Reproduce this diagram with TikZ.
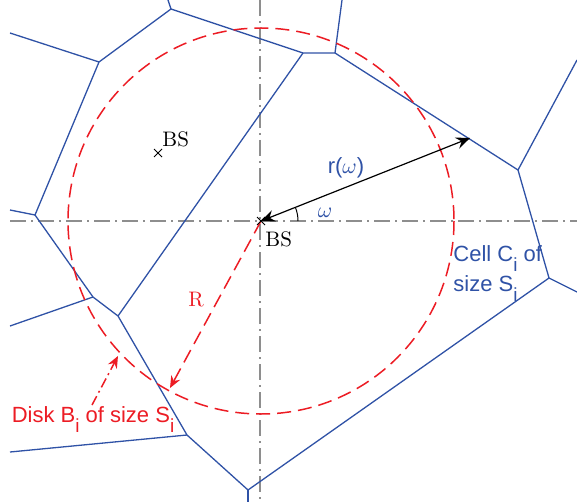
\documentclass[tikz,border=0pt]{standalone}
\usepackage{fontspec}
\newfontfamily\labsans{Liberation Sans}
\usetikzlibrary{arrows.meta,shapes.misc}
\definecolor{cellblue}{HTML}{2F52A6}
\definecolor{diskred}{HTML}{EC1C24}
\definecolor{axisgray}{HTML}{8E8E8E}
\newcommand{\lowi}{\raisebox{-5pt}{\fontsize{9.5}{10}\selectfont i}}
\tikzset{
  celledge/.style={draw=cellblue, line width=0.65pt},
  axisline/.style={draw=axisgray, line width=0.55pt, dash pattern=on 8pt off 2.5pt on 1pt off 2.5pt},
  diskline/.style={draw=diskred, line width=0.75pt, dash pattern=on 7pt off 3.5pt},
  diskdashdot/.style={draw=diskred, line width=0.75pt, dash pattern=on 5pt off 2pt on 1pt off 2pt},
  redtip/.style={-{Stealth[length=6pt,width=5pt,inset=2pt]}},
  bsmark/.style={cross out, draw=black, line width=0.5pt, minimum size=3.5pt, inner sep=0pt},
  serlab/.style={font=\fontsize{10.5}{12}\selectfont, inner sep=0pt},
  sanslab/.style={font=\labsans\fontsize{11}{15}\selectfont, inner sep=0pt},
}
\begin{document}
\begin{tikzpicture}[x=0.5pt,y=-0.5pt]
\useasboundingbox (0,0) rectangle (577,502);
% base stations and axes
\coordinate (bs) at (261,221);
\coordinate (axl) at (10,221);
\coordinate (axr) at (577,221);
\coordinate (axt) at (260,0);
\coordinate (axb) at (260,502);
\draw[axisline] (axl) -- (axr);
\draw[axisline] (axt) -- (axb);
% Voronoi vertices
\coordinate (v1) at (99,62);
\coordinate (v2) at (171,9);
\coordinate (v3) at (303,53);
\coordinate (v4) at (335,53);
\coordinate (v5) at (518,170);
\coordinate (v6) at (549,278);
\coordinate (v7) at (248,490);
\coordinate (v8) at (187,435);
\coordinate (v9) at (118,316);
\coordinate (v10) at (93,297);
\coordinate (v11) at (35,215);
% free ends
\coordinate (e1) at (10,33);
\coordinate (e2) at (168,0);
\coordinate (e3) at (342,0);
\coordinate (e4) at (577,60);
\coordinate (e5) at (577,292);
\coordinate (e6) at (248,502);
\coordinate (e7) at (10,452);
\coordinate (e8) at (10,326);
\coordinate (e9) at (10,210);
\draw[celledge] (v1) -- (v2) -- (v3) -- (v4) -- (v5) -- (v6) -- (v7) -- (v8) -- (v9) -- (v10) -- (v11) -- cycle;
\draw[celledge] (v3) -- (v9);
\draw[celledge] (e1) -- (v1);
\draw[celledge] (e2) -- (v2);
\draw[celledge] (e3) -- (v4);
\draw[celledge] (e4) -- (v5);
\draw[celledge] (e5) -- (v6);
\draw[celledge] (e6) -- (v7);
\draw[celledge] (e7) -- (v8);
\draw[celledge] (e8) -- (v10);
\draw[celledge] (e9) -- (v11);
% disk
\draw[diskline] (bs) circle[radius=193];
% radius R
\coordinate (rend) at (170,388);
\draw[diskline, redtip] (bs) -- (rend);
\node[serlab, text=diskred] (rlab) at (196,300) {R};
% r(omega) arrow
\coordinate (rtip) at (470,138);
\draw[black, line width=0.6pt, {Stealth[length=7pt,width=6pt,inset=2.5pt]}-{Stealth[length=7pt,width=6pt,inset=2.5pt]}] (bs) -- (rtip);
\draw[black, line width=0.5pt] (bs) ++(37,0) arc[start angle=0, end angle=-21.7, radius=37];
\node[sanslab, text=cellblue] (rom) at (346,168) {r($\omega$)};
\node[sanslab, text=cellblue] (om) at (325,213) {$\omega$};
% BS marks
\node[bsmark] (bsx) at (bs) {};
\node[serlab, anchor=north west] (bslab) at (265,231) {BS};
\node[bsmark] (bs2x) at (158,153) {};
\node[serlab, anchor=south west] (bs2lab) at (162,147) {BS};
% labels
\node[sanslab, text=cellblue, align=left, anchor=north west] (cell) at (453,245) {Cell C\lowi\ of\\size S\lowi};
\node[sanslab, text=diskred, anchor=base] (disk) at (93,422) {Disk B\lowi\ of size S\lowi};
\coordinate (diskpt) at (118,356);
\draw[diskdashdot, redtip] (92,405) -- (diskpt);
\end{tikzpicture}
\end{document}
